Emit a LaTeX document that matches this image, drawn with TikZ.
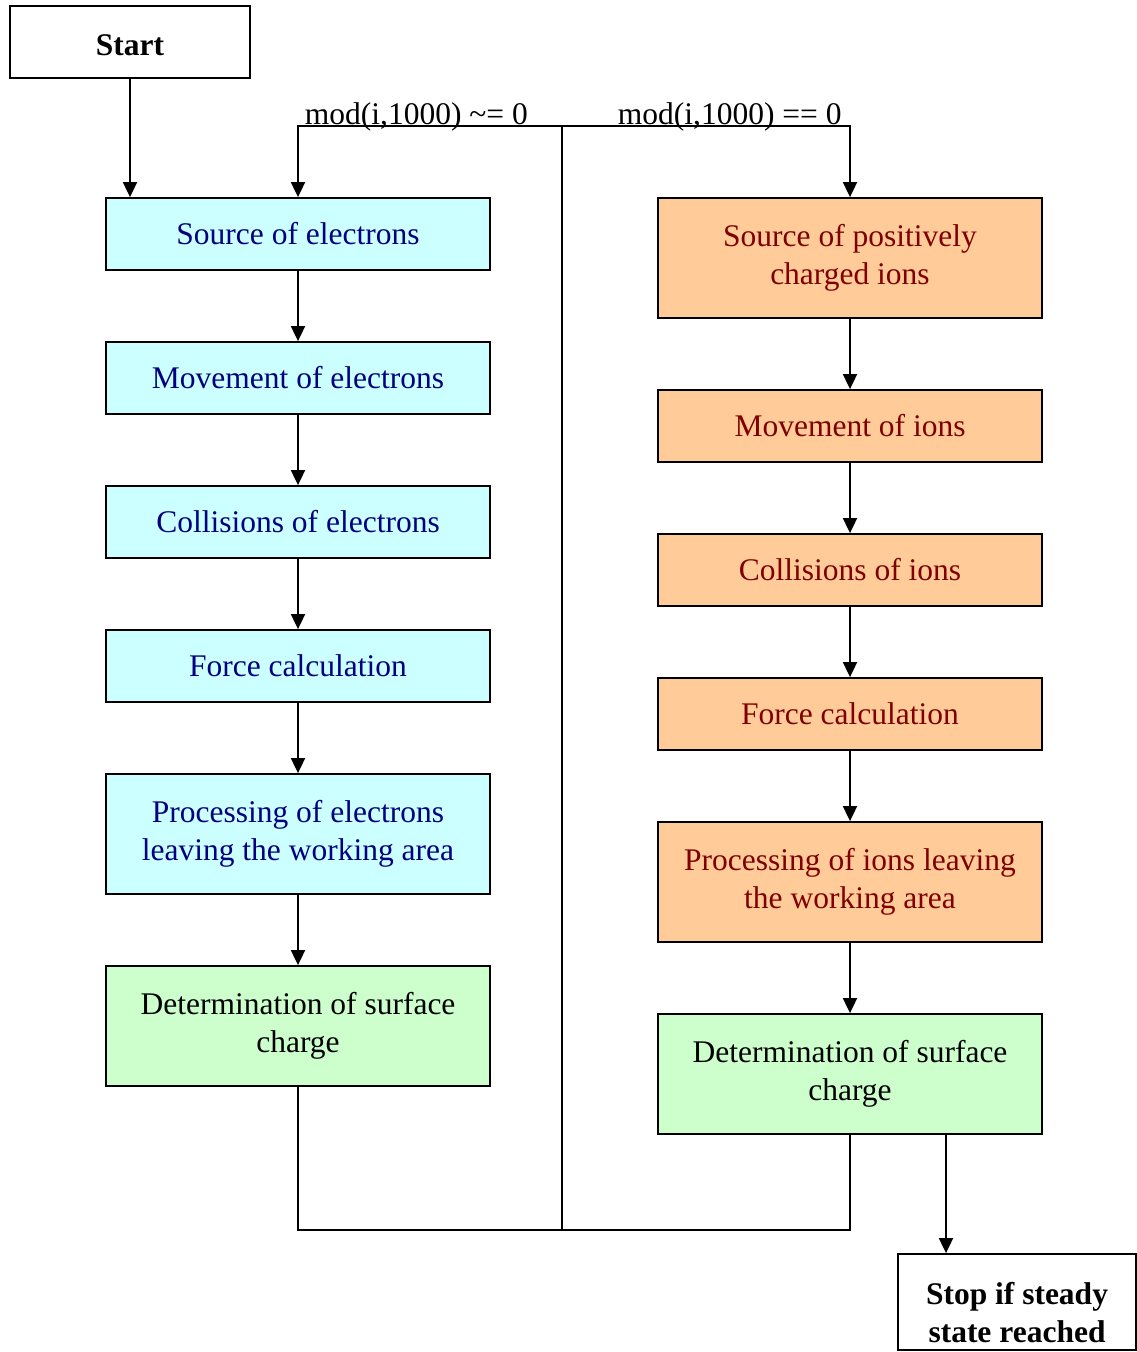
\documentclass[tikz,border=0pt]{standalone}
\usepackage{fontspec}
\setmainfont{Liberation Serif}
\usetikzlibrary{arrows.meta}
\definecolor{ecyan}{HTML}{CCFFFF}
\definecolor{enavy}{HTML}{000080}
\definecolor{iorange}{HTML}{FFCC99}
\definecolor{ired}{HTML}{800000}
\definecolor{sgreen}{HTML}{CCFFCC}
\begin{document}
\begin{tikzpicture}[x=1pt,y=-1pt, line width=1.8pt,
  font=\fontsize{31.5}{38}\selectfont,
  box/.style={draw, line width=1.8pt, minimum width=384pt, inner sep=0pt, align=center},
  elec/.style={box, fill=ecyan, text=enavy},
  ion/.style={box, fill=iorange, text=ired},
  surf/.style={box, fill=sgreen, text=black},
  plain/.style={draw, line width=1.8pt, inner sep=0pt, align=center, fill=white, font=\fontsize{31.5}{38}\selectfont\bfseries},
  arr/.style={-{Triangle[length=15pt,width=14pt]}},
  lbl/.style={inner sep=0pt, anchor=base west}]
\useasboundingbox (0,0) rectangle (1136,1352);
% start
\node[plain, minimum width=240pt, minimum height=72pt] (start) at (130,42) {\rule{0pt}{28pt}Start};
% electron column
\node[elec, minimum height=72pt]  (e1) at (298,234) {Source of electrons};
\node[elec, minimum height=72pt]  (e2) at (298,378) {Movement of electrons};
\node[elec, minimum height=72pt]  (e3) at (298,522) {Collisions of electrons};
\node[elec, minimum height=72pt]  (e4) at (298,666) {Force calculation};
\node[elec, minimum height=120pt] (e5) at (298,834) {Processing of electrons\\leaving the working area};
\node[surf, minimum height=120pt] (e6) at (298,1026) {Determination of surface\\charge};
% ion column
\node[ion, minimum height=120pt]  (i1) at (850,258) {Source of positively\\charged ions};
\node[ion, minimum height=72pt]   (i2) at (850,426) {Movement of ions};
\node[ion, minimum height=72pt]   (i3) at (850,570) {Collisions of ions};
\node[ion, minimum height=72pt]   (i4) at (850,714) {Force calculation};
\node[ion, minimum height=120pt]  (i5) at (850,882) {Processing of ions leaving\\the working area};
\node[surf, minimum height=120pt] (i6) at (850,1074) {Determination of surface\\charge};
% stop
\node[plain, minimum width=238pt, minimum height=96pt] (stop) at (1017,1302) {\rule{0pt}{44pt}Stop if steady\\state reached};
% loop lines
\coordinate (top) at (562,126);
\coordinate (bot) at (562,1230);
\coordinate (sx) at (946,0);
\draw (top) -- (bot);
\draw[arr] (top) -| (e1.north);
\draw[arr] (top) -| (i1.north);
\draw (e6.south) |- (bot);
\draw (i6.south) |- (bot);
\draw[arr] (start.south) -- (start.south |- e1.north);
\foreach \a/\b in {e1/e2,e2/e3,e3/e4,e4/e5,e5/e6,i1/i2,i2/i3,i3/i4,i4/i5,i5/i6}
  \draw[arr] (\a.south) -- (\b.north);
\draw[arr] (i6.south -| sx) -- (stop.north -| sx);
% labels
\node[lbl] (l1) at (304,124) {mod(i,1000) \textasciitilde= 0};
\node[lbl] (l2) at (617,124) {mod(i,1000) == 0};
\end{tikzpicture}
\end{document}
